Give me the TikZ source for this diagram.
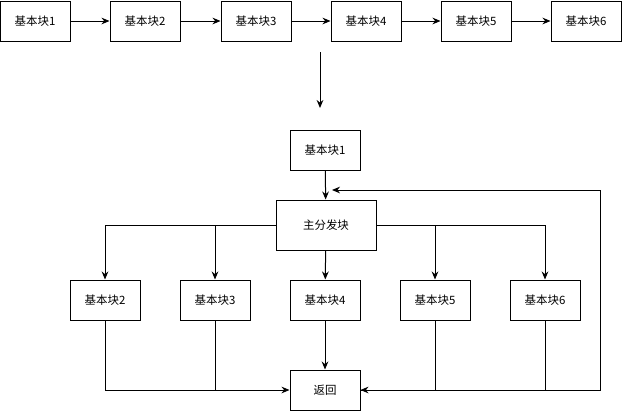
\documentclass[tikz,border=0pt]{standalone}
\usepackage{fontspec}
\setmainfont{Noto Sans CJK SC}
\usetikzlibrary{arrows.meta}
\begin{document}
\begin{tikzpicture}[x=0.75pt,y=-0.75pt,
 blk/.style={draw,line width=0.75pt,minimum width=52.5pt,minimum height=30pt,inner sep=0pt,font=\fontsize{8.6}{10}\selectfont},
 ar/.style={-{Stealth[length=6pt,width=5pt]},line width=0.75pt},
 ln/.style={line width=0.75pt}]
\useasboundingbox (0,0) rectangle (622,411);
\foreach \i/\x in {1/35,2/145,3/256,4/366,5/476,6/586}
  \node[blk] (t\i) at (\x,21) {基本块\i};
\foreach \a/\b in {1/2,2/3,3/4,4/5,5/6} \draw[ar] (t\a) -- (t\b);
\coordinate (s1) at (320,52); \coordinate (s2) at (320,108);
\draw[ar] (s1) -- (s2);
\node[blk] (b1) at (325,150) {基本块1};
\node[blk,minimum width=75pt,minimum height=37.5pt] (m) at (326,225) {主分发块};
\foreach \i/\x in {2/105,3/215,4/325,5/435,6/545}
  \node[blk] (c\i) at (\x,300) {基本块\i};
\node[blk] (r) at (325,390) {返回};
\draw[ar] (b1) -- (m);
\draw[ar] (m.west) -| (c2.north);
\draw[ar] (m.east) -| (c6.north);
\draw[ar] (c3.north |- m.west) -- (c3.north);
\draw[ar] (c5.north |- m.east) -- (c5.north);
\draw[ar] (m) -- (c4);
\draw[ar] (c2.south) |- (r.west);
\draw[ln] (c3.south) -- (c3.south |- r.west);
\draw[ar] (c4) -- (r);
\draw[ar] (c6.south) |- (r.east);
\draw[ln] (c5.south) -- (c5.south |- r.east);
\coordinate (lp) at (600,190);
\coordinate (le) at (332,190);
\draw[ar] (r.east) -| (lp) -- (le);
\end{tikzpicture}
\end{document}
